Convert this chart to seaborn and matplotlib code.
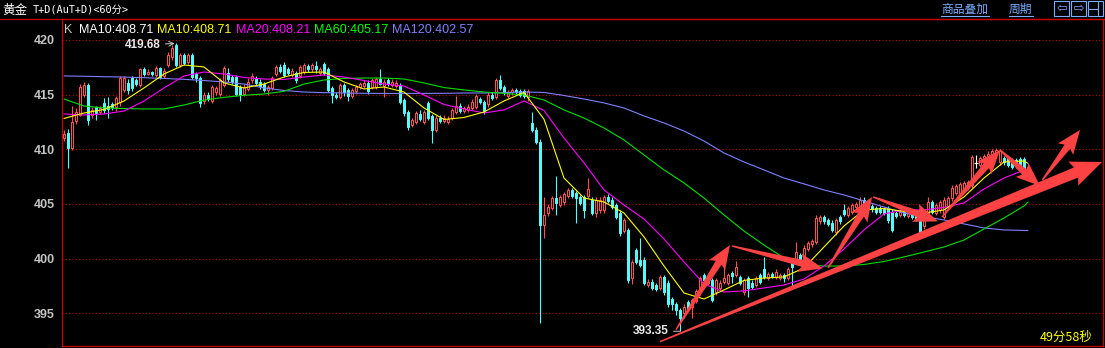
import numpy as np
import pandas as pd
import matplotlib
matplotlib.use("Agg")
import matplotlib.pyplot as plt
import seaborn as sns
from matplotlib.patches import Polygon, Rectangle
from matplotlib.lines import Line2D

# ---------------- data ----------------
open_ = [411.0, 411.5, 410.1, 412.6, 413.1, 415.0, 415.9, 413.1, 413.9, 413.4,
         414.2, 414.0, 414.1, 413.9, 414.3, 415.4, 416.1, 416.5, 416.3, 415.9,
         417.3, 416.9, 417.1, 416.8, 417.4, 416.7, 417.7, 418.4, 419.5, 417.7,
         418.6, 418.0, 418.6, 416.9, 416.5, 414.4, 415.0, 414.4, 415.2, 415.1,
         415.9, 417.0, 416.6, 416.6, 415.7, 415.1, 415.5, 416.3, 416.4, 416.2,
         416.0, 415.4, 415.6, 416.9, 417.5, 417.7, 417.3, 416.8, 417.0, 416.7,
         417.1, 417.6, 417.3, 417.6, 417.0, 417.8, 417.3, 415.6, 415.0, 414.8,
         415.9, 415.4, 414.9, 415.3, 415.7, 415.8, 416.1, 415.7, 415.7, 416.4,
         415.8, 416.3, 415.9, 415.8, 415.9, 414.5, 413.4, 412.2, 412.5, 413.2,
         412.5, 414.2, 413.0, 411.8, 412.9, 412.6, 412.5, 412.9, 413.4, 414.0,
         413.5, 413.6, 413.8, 413.9, 414.6, 414.3, 414.1, 415.0, 414.8, 416.3,
         415.7, 414.9, 415.2, 415.4, 415.3, 415.3, 414.8, 412.4, 411.8, 410.7,
         403.1, 404.2, 404.6, 405.5, 404.9, 405.2, 405.7, 406.3, 406.0, 405.6,
         405.6, 405.7, 405.4, 404.2, 404.4, 404.4, 405.6, 405.4, 404.9, 404.2,
         402.5, 402.6, 398.2, 400.8, 399.9, 399.9, 397.6, 397.9, 397.6, 397.3,
         398.3, 397.8, 396.3, 395.8, 395.3, 395.0, 396.0, 395.6, 396.1, 396.9,
         398.5, 397.8, 398.0, 396.9, 397.3, 397.9, 397.8, 398.7, 398.5, 398.3,
         396.9, 398.2, 397.8, 397.6, 398.5, 399.0, 398.2, 398.6, 398.3, 398.2,
         398.5, 398.2, 399.6, 400.0, 400.3, 400.1, 400.9, 401.3, 401.5, 403.4,
         403.8, 403.5, 403.3, 402.4, 403.8, 404.4, 404.0, 404.3, 404.7, 404.7,
         405.4, 405.2, 404.8, 404.6, 404.6, 404.5, 404.6, 404.3, 404.2, 404.0,
         404.3, 403.9, 404.2, 403.9, 404.4, 403.0, 404.0, 405.2, 404.2, 404.4,
         403.8, 404.7, 405.5, 406.0, 406.0, 406.3, 406.5, 406.7, 408.7, 408.6,
         408.8, 409.2, 409.4, 409.5, 408.8, 409.2, 409.2, 409.0, 409.0, 409.1,
         409.1, 408.3]

high = [411.8, 411.9, 414.0, 413.8, 416.0, 416.2, 416.1, 413.9, 414.0, 414.0,
        414.7, 414.8, 414.3, 414.9, 416.7, 416.7, 416.4, 416.7, 416.5, 417.4,
        417.5, 417.3, 417.2, 417.6, 417.5, 417.4, 418.9, 419.5, 419.68, 418.8,
        418.8, 418.8, 418.8, 417.1, 416.7, 415.2, 415.2, 415.9, 415.8, 416.5,
        417.6, 417.4, 416.8, 416.8, 415.9, 416.0, 416.5, 417.0, 416.7, 416.4,
        416.2, 415.9, 416.7, 417.7, 417.8, 418.0, 417.5, 417.4, 417.2, 417.7,
        417.9, 417.8, 417.9, 418.1, 417.5, 418.0, 417.5, 415.8, 415.2, 416.1,
        416.1, 415.6, 415.6, 415.9, 416.2, 416.3, 416.3, 416.5, 416.6, 417.3,
        416.4, 416.5, 416.4, 416.3, 416.1, 414.7, 413.6, 412.9, 413.5, 413.6,
        413.6, 414.4, 413.2, 413.1, 413.1, 413.1, 413.0, 413.8, 414.9, 414.2,
        414.0, 414.1, 414.6, 415.1, 414.8, 414.5, 415.2, 415.2, 416.5, 416.8,
        415.9, 415.4, 415.6, 415.6, 415.5, 415.5, 415.5, 413.4, 412.0, 410.9,
        405.6, 405.0, 405.7, 407.6, 405.8, 406.1, 406.5, 406.5, 406.2, 405.8,
        405.8, 407.4, 405.6, 405.6, 405.6, 405.8, 405.9, 405.6, 405.1, 404.4,
        403.7, 402.8, 399.9, 401.0, 401.9, 400.1, 398.1, 398.1, 397.8, 398.5,
        398.5, 398.0, 396.5, 396.0, 395.5, 395.8, 396.2, 396.4, 397.2, 398.4,
        398.7, 398.5, 398.2, 398.2, 398.0, 399.3, 398.7, 398.9, 399.8, 398.5,
        398.2, 398.4, 398.0, 398.4, 398.7, 400.1, 398.8, 398.8, 399.0, 398.7,
        398.7, 399.2, 399.9, 401.5, 400.5, 401.2, 401.6, 401.8, 404.0, 404.0,
        404.0, 403.7, 403.5, 403.7, 404.0, 405.0, 404.8, 405.1, 405.2, 405.6,
        405.6, 405.4, 405.0, 404.8, 404.8, 404.7, 404.8, 404.5, 404.4, 404.5,
        404.5, 404.4, 404.4, 404.1, 404.6, 404.2, 405.6, 405.4, 405.1, 405.4,
        405.6, 405.7, 406.7, 406.8, 407.0, 407.1, 407.2, 409.5, 409.5, 409.4,
        409.6, 409.8, 410.0, 410.1, 410.0, 409.4, 409.4, 409.2, 409.2, 409.3,
        409.3, 408.6]

low = [410.8, 408.3, 409.9, 412.3, 413.0, 414.8, 412.2, 412.9, 412.7, 413.2,
       413.3, 412.9, 413.6, 413.5, 414.0, 415.2, 415.1, 415.3, 415.8, 415.7,
       416.7, 416.8, 416.7, 416.6, 416.4, 416.5, 417.5, 418.2, 417.5, 417.5,
       417.7, 417.8, 416.4, 416.2, 413.9, 414.1, 414.4, 414.2, 415.0, 414.9,
       415.7, 416.2, 416.0, 414.9, 414.4, 414.9, 415.3, 416.1, 415.9, 415.5,
       415.2, 415.0, 415.4, 416.7, 417.0, 416.6, 416.8, 416.6, 416.1, 416.5,
       416.9, 417.1, 417.1, 417.0, 416.8, 416.8, 415.2, 414.2, 414.6, 414.6,
       414.9, 414.4, 414.7, 415.1, 415.5, 415.6, 415.1, 415.5, 415.5, 415.9,
       414.8, 415.8, 415.7, 415.6, 414.1, 413.0, 411.8, 412.0, 412.3, 412.6,
       412.3, 412.7, 410.6, 411.6, 412.4, 412.4, 412.3, 412.7, 413.2, 413.3,
       413.3, 413.4, 413.6, 413.7, 414.1, 413.2, 413.9, 414.5, 414.6, 415.4,
       415.0, 414.7, 415.0, 415.0, 414.8, 414.7, 414.4, 411.6, 410.5, 394.1,
       401.9, 403.9, 404.4, 404.0, 404.7, 404.9, 405.5, 405.5, 403.3, 404.9,
       403.7, 405.5, 404.0, 403.8, 404.2, 404.2, 405.1, 404.5, 403.6, 402.1,
       402.3, 397.8, 397.7, 399.5, 399.2, 397.6, 397.4, 397.1, 397.0, 397.1,
       396.7, 395.6, 395.3, 394.8, 393.35, 394.6, 395.2, 394.6, 395.9, 396.7,
       397.8, 397.6, 396.0, 396.7, 397.1, 397.7, 397.6, 397.8, 398.3, 397.6,
       396.7, 396.5, 397.2, 397.4, 397.7, 398.1, 398.0, 398.2, 398.1, 398.0,
       397.9, 398.0, 397.4, 399.8, 399.6, 399.9, 400.7, 401.1, 401.3, 403.2,
       403.2, 403.0, 402.4, 402.2, 403.2, 403.9, 403.8, 404.1, 404.5, 404.5,
       404.8, 404.6, 404.3, 404.1, 404.1, 404.0, 403.3, 402.4, 403.7, 403.8,
       403.8, 403.7, 403.6, 403.4, 402.2, 402.7, 403.8, 404.1, 404.0, 404.2,
       403.6, 404.5, 405.3, 405.8, 405.8, 406.1, 406.3, 406.5, 408.3, 408.4,
       408.6, 409.0, 409.2, 409.3, 408.6, 408.6, 408.4, 408.2, 408.3, 408.2,
       408.1, 408.2]

close = [411.4, 410.1, 412.5, 413.4, 415.7, 415.9, 412.7, 413.6, 413.3, 413.8,
         413.6, 413.7, 413.9, 414.7, 416.5, 416.5, 415.4, 415.6, 416.0, 417.3,
         416.9, 417.1, 416.9, 417.4, 416.6, 417.2, 418.6, 419.3, 417.7, 418.6,
         417.9, 418.6, 416.6, 416.5, 414.2, 415.0, 414.6, 415.7, 415.6, 416.3,
         417.4, 416.4, 416.2, 415.1, 415.0, 415.7, 416.2, 416.7, 416.1, 415.8,
         415.4, 415.7, 416.5, 417.5, 417.2, 416.8, 417.0, 417.2, 416.3, 417.5,
         417.7, 417.3, 417.7, 417.3, 417.3, 417.0, 415.4, 415.0, 414.8, 415.9,
         415.2, 414.9, 415.4, 415.7, 416.0, 416.1, 415.3, 416.3, 416.4, 416.0,
         416.2, 416.0, 416.2, 416.1, 414.3, 413.3, 412.0, 412.7, 413.3, 412.8,
         413.4, 412.9, 411.8, 412.9, 412.6, 412.9, 412.8, 413.6, 414.0, 413.5,
         413.8, 413.9, 414.3, 414.9, 414.3, 413.4, 415.0, 414.7, 416.3, 415.6,
         415.2, 415.2, 415.4, 415.2, 415.0, 414.9, 415.3, 411.8, 410.7, 403.1,
         404.0, 404.7, 405.5, 405.1, 405.6, 405.9, 406.3, 405.7, 405.5, 405.1,
         404.4, 406.4, 404.2, 405.4, 405.4, 405.6, 405.3, 404.7, 403.8, 402.3,
         403.5, 398.0, 399.7, 399.7, 399.4, 397.8, 397.9, 397.3, 397.2, 398.3,
         396.9, 395.8, 395.8, 395.3, 394.6, 395.6, 395.5, 396.2, 397.0, 398.2,
         398.0, 398.3, 396.2, 398.0, 397.8, 398.2, 398.5, 398.4, 399.2, 397.8,
         398.0, 397.3, 397.4, 398.2, 397.9, 398.3, 398.6, 398.4, 398.8, 398.5,
         398.2, 399.0, 399.2, 400.6, 399.9, 401.0, 401.4, 401.6, 403.7, 403.8,
         403.4, 403.2, 402.6, 403.5, 403.4, 404.1, 404.6, 404.9, 405.0, 405.4,
         405.0, 404.8, 404.5, 404.3, 404.3, 404.2, 403.5, 402.6, 403.9, 404.3,
         404.0, 404.2, 403.8, 403.6, 402.4, 404.0, 405.2, 404.3, 404.9, 405.2,
         405.4, 405.5, 406.5, 406.6, 406.8, 406.9, 407.0, 409.3, 408.7, 409.2,
         409.4, 409.6, 409.8, 409.9, 409.8, 408.8, 408.6, 408.4, 408.5, 408.4,
         408.3, 408.4]

# moving averages, sampled every 5 bars (last point = last bar)
ma_idx = list(range(0, 241, 5)) + [241]
ma10 = [412.82, 413.32, 413.64, 414.42, 415.61, 416.89, 417.71, 417.53, 416.07, 415.61,
        415.97, 416.61, 417.03, 417.07, 416.16, 415.52, 415.70, 415.24, 413.78, 412.73,
        412.91, 413.41, 414.42, 415.20, 412.75, 407.37, 405.54, 405.18, 404.17, 401.98,
        399.32, 396.85, 396.30, 397.13, 398.00, 398.22, 398.32, 399.14, 401.06, 402.98,
        404.45, 404.58, 404.31, 404.17, 404.45, 405.64, 407.37, 408.84, 408.93, 408.71]
ma20 = [413.23, 413.14, 413.23, 413.50, 414.42, 415.61, 416.71, 417.07, 416.89, 416.57,
        416.43, 416.39, 416.61, 416.80, 416.61, 416.29, 415.97, 415.79, 414.97, 414.10,
        413.69, 413.32, 413.60, 414.42, 413.55, 411.03, 408.75, 406.28, 404.90, 403.62,
        401.79, 399.69, 397.68, 396.94, 397.04, 397.31, 397.58, 398.13, 399.32, 400.88,
        402.62, 404.08, 404.45, 404.45, 404.68, 405.09, 406.37, 407.37, 408.10, 408.21]
ma60 = [414.60, 413.96, 413.78, 413.73, 413.69, 413.69, 414.05, 414.50, 414.75, 414.94,
        415.06, 415.30, 415.97, 416.34, 416.48, 416.52, 416.52, 416.43, 416.07, 415.65,
        415.43, 415.24, 415.11, 414.97, 414.51, 413.60, 412.86, 411.95, 410.85, 409.48,
        408.11, 406.92, 405.54, 403.99, 402.52, 401.24, 400.05, 399.41, 399.32, 399.32,
        399.46, 399.73, 400.15, 400.60, 401.06, 401.70, 402.71, 403.71, 404.81, 405.17]
ma120 = [416.71, 416.68, 416.64, 416.61, 416.55, 416.48, 416.40, 416.29, 416.16, 415.97,
         415.61, 415.38, 415.24, 415.18, 415.15, 415.12, 415.11, 415.11, 415.11, 415.12,
         415.15, 415.15, 415.18, 415.24, 415.20, 414.92, 414.60, 414.24, 413.78, 413.05,
         412.41, 411.67, 410.76, 409.66, 408.84, 408.11, 407.37, 406.83, 406.28, 405.82,
         405.27, 404.72, 404.17, 403.85, 403.53, 403.17, 402.80, 402.62, 402.57, 402.57]

y_ticks = [395, 400, 405, 410, 415, 420]
legend_labels = ["MA10:408.71", "MA10:408.71", "MA20:408.21", "MA60:405.17", "MA120:402.57"]
high_label, low_label = "419.68", "393.35"
high_bar, low_bar = 28, 154

# hand-drawn trend arrows (bar index, price): start -> tip, tail/shaft/head widths, head length (px)
arrow_specs = [
    (149.0, 392.40, 259.5, 408.84, 1.5, 11, 26, 28),
    (153.0, 393.50, 166.5, 401.24, 1.5, 7, 19, 21),
    (167.0, 401.15, 189.7, 399.10, 1.5, 7, 19, 21),
    (191.0, 399.14, 202.0, 405.64, 1.5, 7, 19, 21),
    (202.3, 405.64, 218.5, 403.40, 1.5, 7, 19, 21),
    (219.5, 403.80, 234.0, 409.94, 1.5, 7, 19, 21),
    (234.0, 409.94, 244.0, 406.64, 1.5, 7, 19, 21),
    (244.6, 407.19, 254.0, 411.77, 1.5, 7, 19, 21),
]

# ---------------- styling ----------------
sns.set_theme(style="dark", rc={"axes.facecolor": "black", "figure.facecolor": "black",
                                "savefig.facecolor": "black"})
plt.rcParams["font.family"] = ["Liberation Sans", "Noto Sans CJK SC", "DejaVu Sans"]

W, H = 1105, 348
RED_LINE = "#c80000"
UP = "#ff5050"
DOWN = "#54fcfc"
ARROW = "#fc4242"

fig = plt.figure(figsize=(W / 100, H / 100), dpi=100)
fig.patch.set_facecolor("black")
ax = fig.add_axes([62 / W, 2 / H, 1041 / W, 327 / H])
ax.set_facecolor("black")
ax.set_xlim(-0.5, 259.75)
ax.set_ylim(392.0, 421.92)

for s in ax.spines.values():
    s.set_color(RED_LINE)
    s.set_linewidth(0.9)

ax.set_xticks([])
ax.set_yticks(y_ticks)
ax.set_yticklabels([str(t) for t in y_ticks])
ax.tick_params(axis="y", length=0, pad=5, labelcolor="#c4c4c4", labelsize=9)
for lbl in ax.get_yticklabels():
    lbl.set_fontweight("bold")
ax.grid(False)

# dotted grid lines
ax.hlines(y_ticks, -0.5, 259.75, colors="#b00000", linestyles=(0, (1, 2)), linewidth=0.8, zorder=1)

# ---------------- candles ----------------
df = pd.DataFrame({"o": open_, "h": high, "l": low, "c": close})
df["i"] = np.arange(len(df))
up = df[df.c > df.o]
dn = df[df.c < df.o]
flat = df[df.c == df.o]

ax.vlines(up.i, up.l, up.h, color=UP, linewidth=0.8, zorder=2)
ax.vlines(dn.i, dn.l, dn.h, color=DOWN, linewidth=0.8, zorder=2)
ax.vlines(flat.i, flat.l, flat.h, color="white", linewidth=0.8, zorder=2)
ax.bar(up.i, up.c - up.o, bottom=up.o, width=0.5, facecolor="black", edgecolor=UP,
       linewidth=0.75, zorder=3)
ax.bar(dn.i, dn.c - dn.o, bottom=dn.o, width=0.5, facecolor=DOWN, edgecolor=DOWN,
       linewidth=0.75, zorder=3)
ax.hlines(flat.c, flat.i - 0.45, flat.i + 0.45, color="white", linewidth=0.9, zorder=3)

# ---------------- moving averages (seaborn) ----------------
ma_df = pd.DataFrame({"i": ma_idx, "MA10": ma10, "MA20": ma20, "MA60": ma60, "MA120": ma120})
for name, col in [("MA120", "#7f7fff"), ("MA60", "#00e000"), ("MA20", "#ff00ff"), ("MA10", "#ffff00")]:
    sns.lineplot(data=ma_df, x="i", y=name, ax=ax, color=col, linewidth=0.8,
                 estimator=None, sort=False, zorder=4)
ax.set_xlabel("")
ax.set_ylabel("")

# ---------------- high / low marks ----------------
ax.annotate(high_label, xy=(high_bar, high[high_bar]), xytext=(-11, -1), textcoords="offset points",
            ha="right", va="center", color="#e8e8e8", fontsize=8.5, fontweight="bold",
            arrowprops=dict(arrowstyle="->", color="#c8c8c8", lw=0.7, shrinkA=1, shrinkB=1), zorder=7)
ax.annotate(low_label, xy=(low_bar, low[low_bar]), xytext=(-8, 0), textcoords="offset points",
            ha="right", va="center", color="#e8e8e8", fontsize=8.5, fontweight="bold",
            arrowprops=dict(arrowstyle="-", color="#c8c8c8", lw=0.7, shrinkA=1, shrinkB=0), zorder=7)


# ---------------- tapered arrows ----------------
def taper_arrow(x0, y0, x1, y1, tail_w, shaft_w, head_w, head_len):
    T = ax.transData
    p0 = T.transform((x0, y0))
    p1 = T.transform((x1, y1))
    d = p1 - p0
    u = d / np.hypot(*d)
    n = np.array([-u[1], u[0]])
    b = p1 - u * head_len
    pts = np.array([p0 + n * tail_w / 2, b + n * shaft_w / 2, b - u * 3 + n * head_w / 2, p1,
                    b - u * 3 - n * head_w / 2, b - n * shaft_w / 2, p0 - n * tail_w / 2])
    ax.add_patch(Polygon(T.inverted().transform(pts), closed=True, facecolor=ARROW,
                         edgecolor="none", zorder=6, clip_on=False))


for spec in arrow_specs:
    taper_arrow(*spec)

# ---------------- header / texts ----------------
def fx(px):
    return px / W


def fy(py):
    return 1 - py / H


fig.add_artist(Line2D([0, 1], [fy(19), fy(19)], color=RED_LINE, linewidth=0.9, transform=fig.transFigure))
fig.text(fx(2), fy(10), "黄金", color="white", fontsize=9, va="center",
         family=["Noto Sans CJK SC", "DejaVu Sans"])
fig.text(fx(33), fy(10), "T+D(AuT+D)<60分>", color="white", fontsize=7.4, va="center",
         family=["DejaVu Sans Mono", "Noto Sans CJK SC"])

fig.text(fx(941), fy(9), "商品叠加", color="#7aaeff", fontsize=8.5, va="center",
         family=["Noto Sans CJK SC"])
fig.text(fx(1009), fy(9), "周期", color="#7aaeff", fontsize=8.5, va="center",
         family=["Noto Sans CJK SC"])
for a, b in [(941, 989), (1009, 1033)]:
    fig.add_artist(Line2D([fx(a), fx(b)], [fy(16), fy(16)], color="#7aaeff", linewidth=0.8,
                          transform=fig.transFigure))
for x0, sym in [(1054, "⇦"), (1071, "⇨"), (1088, "")]:
    fig.add_artist(Rectangle((fx(x0), fy(16)), 15 / W, 15 / H, fill=False, edgecolor="#7aaeff",
                             linewidth=0.8, transform=fig.transFigure))
    if sym:
        fig.text(fx(x0 + 7.5), fy(8.5), sym, color="#7aaeff", fontsize=9, ha="center", va="center",
                 family=["DejaVu Sans"])
fig.add_artist(Line2D([fx(1098), fx(1098)], [fy(2), fy(15)], color="#7aaeff", linewidth=0.8,
                      transform=fig.transFigure))
fig.add_artist(Line2D([fx(1089), fx(1098)], [fy(8.5), fy(8.5)], color="#7aaeff", linewidth=0.8,
                      transform=fig.transFigure))

fig.text(fx(64), fy(30), "K", color="#c8c8c8", fontsize=9, va="center")
legend_x = [79, 157, 236, 314, 392]
legend_colors = ["#ffffff", "#ffff00", "#ff00ff", "#00ff00", "#8080ff"]
for lx, txt, col in zip(legend_x, legend_labels, legend_colors):
    fig.text(fx(lx), fy(30), txt, color=col, fontsize=9, va="center")

fig.text(fx(1040), fy(337), "49分58秒", color="#ffff00", fontsize=9, va="center",
         family=["Noto Sans CJK SC", "DejaVu Sans"])

fig.savefig("out.png", dpi=100, facecolor="black")
